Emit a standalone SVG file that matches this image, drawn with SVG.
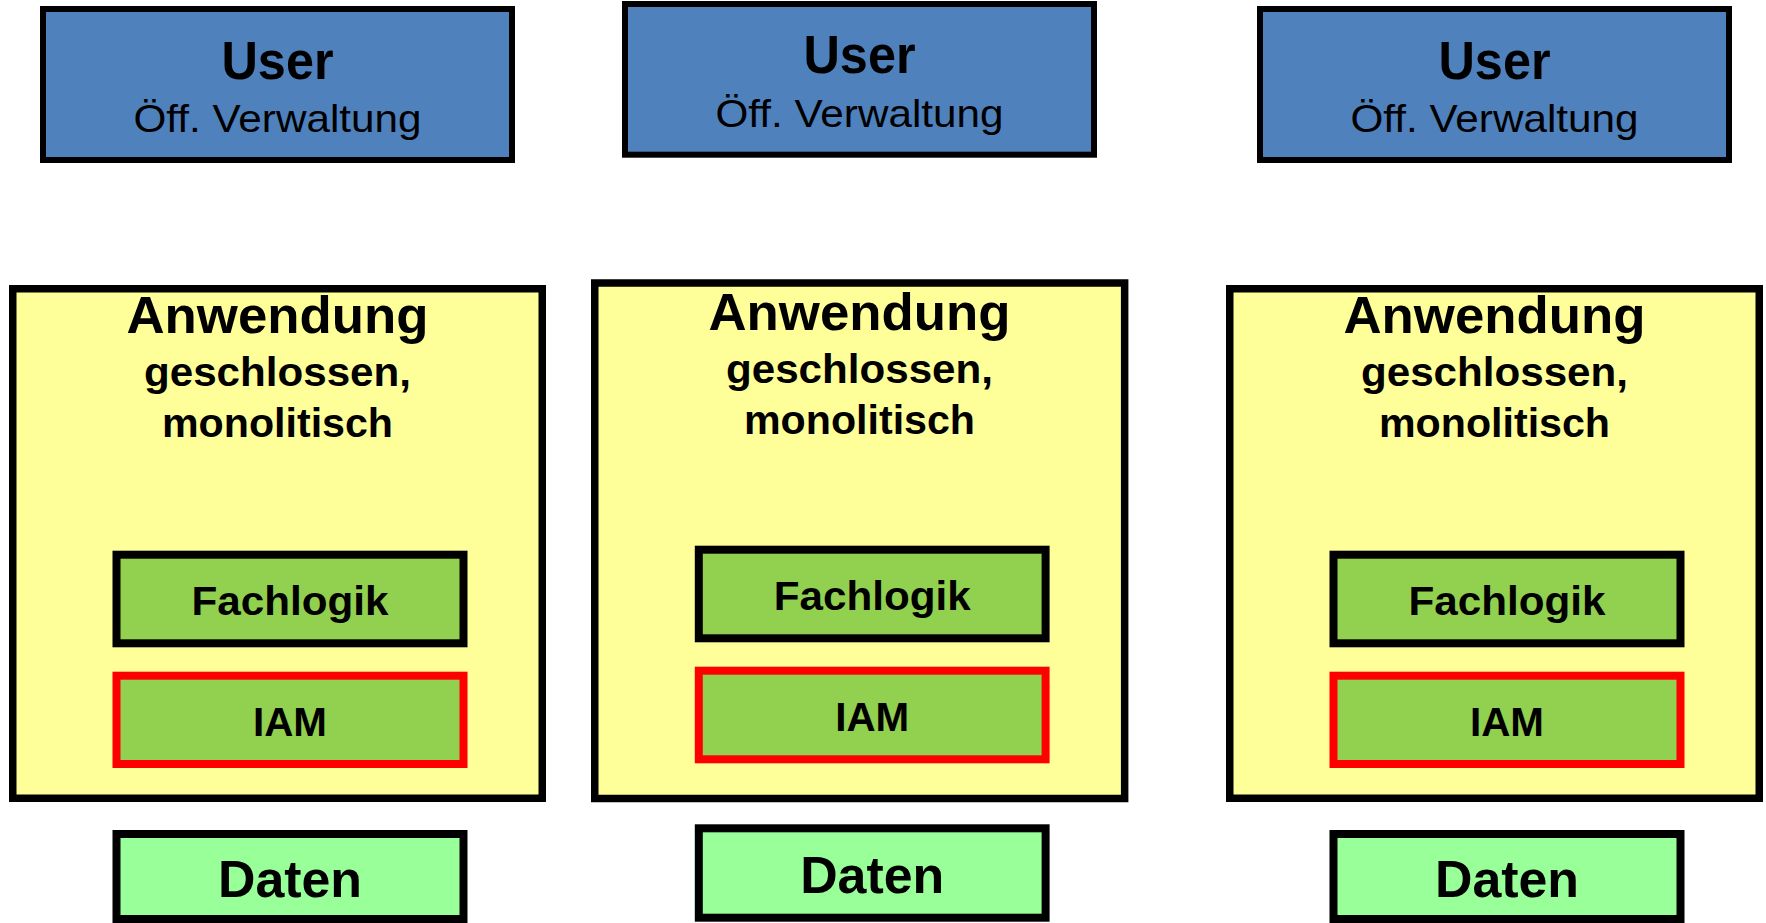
<svg xmlns="http://www.w3.org/2000/svg" width="1766" height="923" viewBox="0 0 1766 923">
<style>
  .user { fill: #4F81BD; stroke: #000; stroke-width: 6; }
  .app { fill: #FFFF99; stroke: #000; stroke-width: 7.5; }
  .fach { fill: #92D050; stroke: #000; stroke-width: 8; }
  .iam { fill: #92D050; stroke: #FF0000; stroke-width: 8; }
  .daten { fill: #99FF99; stroke: #000; stroke-width: 8; }
  text { font-family: "Liberation Sans", Arial, sans-serif; fill: #000; text-anchor: middle; }
  .t-user { font-size: 53px; font-weight: bold; }
  .t-sub { font-size: 39px; }
  .t-app { font-size: 52px; font-weight: bold; }
  .t-desc { font-size: 40px; font-weight: bold; }
  .t-in { font-size: 41px; font-weight: bold; }
  .t-daten { font-size: 52px; font-weight: bold; }
</style>
<g id="connectors"></g>

<!-- Panel 1 -->
<g id="user1">
  <rect class="user" x="43" y="9" width="469" height="151"/>
  <text class="t-user" x="277.5" y="79" textLength="112" lengthAdjust="spacingAndGlyphs">User</text>
  <text class="t-sub" x="277.5" y="131.7" textLength="288" lengthAdjust="spacingAndGlyphs">Öff. Verwaltung</text>
</g>
<g id="app1">
  <rect class="app" x="12.75" y="288.75" width="529.5" height="509.5"/>
  <text class="t-app" x="277.5" y="333" textLength="302" lengthAdjust="spacingAndGlyphs">Anwendung</text>
  <text class="t-desc" x="277.5" y="386" textLength="267" lengthAdjust="spacingAndGlyphs">geschlossen,</text>
  <text class="t-desc" x="277.5" y="437" textLength="231" lengthAdjust="spacingAndGlyphs">monolitisch</text>
</g>
<g id="fach1">
  <rect class="fach" x="116.5" y="554.7" width="347" height="88.6"/>
  <text class="t-in" x="290" y="615" textLength="197" lengthAdjust="spacingAndGlyphs">Fachlogik</text>
</g>
<g id="iam1">
  <rect class="iam" x="116.5" y="675.7" width="347" height="88.3"/>
  <text class="t-in" x="290" y="736" textLength="74" lengthAdjust="spacingAndGlyphs">IAM</text>
</g>
<g id="daten1">
  <rect class="daten" x="116.5" y="834" width="347" height="85"/>
  <text class="t-daten" x="290" y="897" textLength="144" lengthAdjust="spacingAndGlyphs">Daten</text>
</g>

<!-- Panel 2 -->
<g id="user2">
  <rect class="user" x="625" y="4" width="469" height="150.7"/>
  <text class="t-user" x="859.5" y="73.3" textLength="112" lengthAdjust="spacingAndGlyphs">User</text>
  <text class="t-sub" x="859.5" y="126.7" textLength="288" lengthAdjust="spacingAndGlyphs">Öff. Verwaltung</text>
</g>
<g id="app2">
  <rect class="app" x="594.75" y="283" width="529.9" height="515.5"/>
  <text class="t-app" x="859.5" y="330" textLength="302" lengthAdjust="spacingAndGlyphs">Anwendung</text>
  <text class="t-desc" x="859.5" y="383" textLength="267" lengthAdjust="spacingAndGlyphs">geschlossen,</text>
  <text class="t-desc" x="859.5" y="434" textLength="231" lengthAdjust="spacingAndGlyphs">monolitisch</text>
</g>
<g id="fach2">
  <rect class="fach" x="698.8" y="549.7" width="346.8" height="88.6"/>
  <text class="t-in" x="872.2" y="610" textLength="197" lengthAdjust="spacingAndGlyphs">Fachlogik</text>
</g>
<g id="iam2">
  <rect class="iam" x="698.8" y="670.7" width="346.8" height="88.6"/>
  <text class="t-in" x="872.2" y="731" textLength="74" lengthAdjust="spacingAndGlyphs">IAM</text>
</g>
<g id="daten2">
  <rect class="daten" x="698.8" y="828.3" width="346.8" height="89.4"/>
  <text class="t-daten" x="872.2" y="893" textLength="144" lengthAdjust="spacingAndGlyphs">Daten</text>
</g>

<!-- Panel 3 -->
<g id="user3">
  <rect class="user" x="1260" y="9" width="469" height="151"/>
  <text class="t-user" x="1494.5" y="79" textLength="112" lengthAdjust="spacingAndGlyphs">User</text>
  <text class="t-sub" x="1494.5" y="131.7" textLength="288" lengthAdjust="spacingAndGlyphs">Öff. Verwaltung</text>
</g>
<g id="app3">
  <rect class="app" x="1229.75" y="288.75" width="529.5" height="509.5"/>
  <text class="t-app" x="1494.5" y="333" textLength="302" lengthAdjust="spacingAndGlyphs">Anwendung</text>
  <text class="t-desc" x="1494.5" y="386" textLength="267" lengthAdjust="spacingAndGlyphs">geschlossen,</text>
  <text class="t-desc" x="1494.5" y="437" textLength="231" lengthAdjust="spacingAndGlyphs">monolitisch</text>
</g>
<g id="fach3">
  <rect class="fach" x="1333.5" y="554.7" width="347" height="88.6"/>
  <text class="t-in" x="1507" y="615" textLength="197" lengthAdjust="spacingAndGlyphs">Fachlogik</text>
</g>
<g id="iam3">
  <rect class="iam" x="1333.5" y="675.7" width="347" height="88.3"/>
  <text class="t-in" x="1507" y="736" textLength="74" lengthAdjust="spacingAndGlyphs">IAM</text>
</g>
<g id="daten3">
  <rect class="daten" x="1333.5" y="834" width="347" height="85"/>
  <text class="t-daten" x="1507" y="897" textLength="144" lengthAdjust="spacingAndGlyphs">Daten</text>
</g>
</svg>
